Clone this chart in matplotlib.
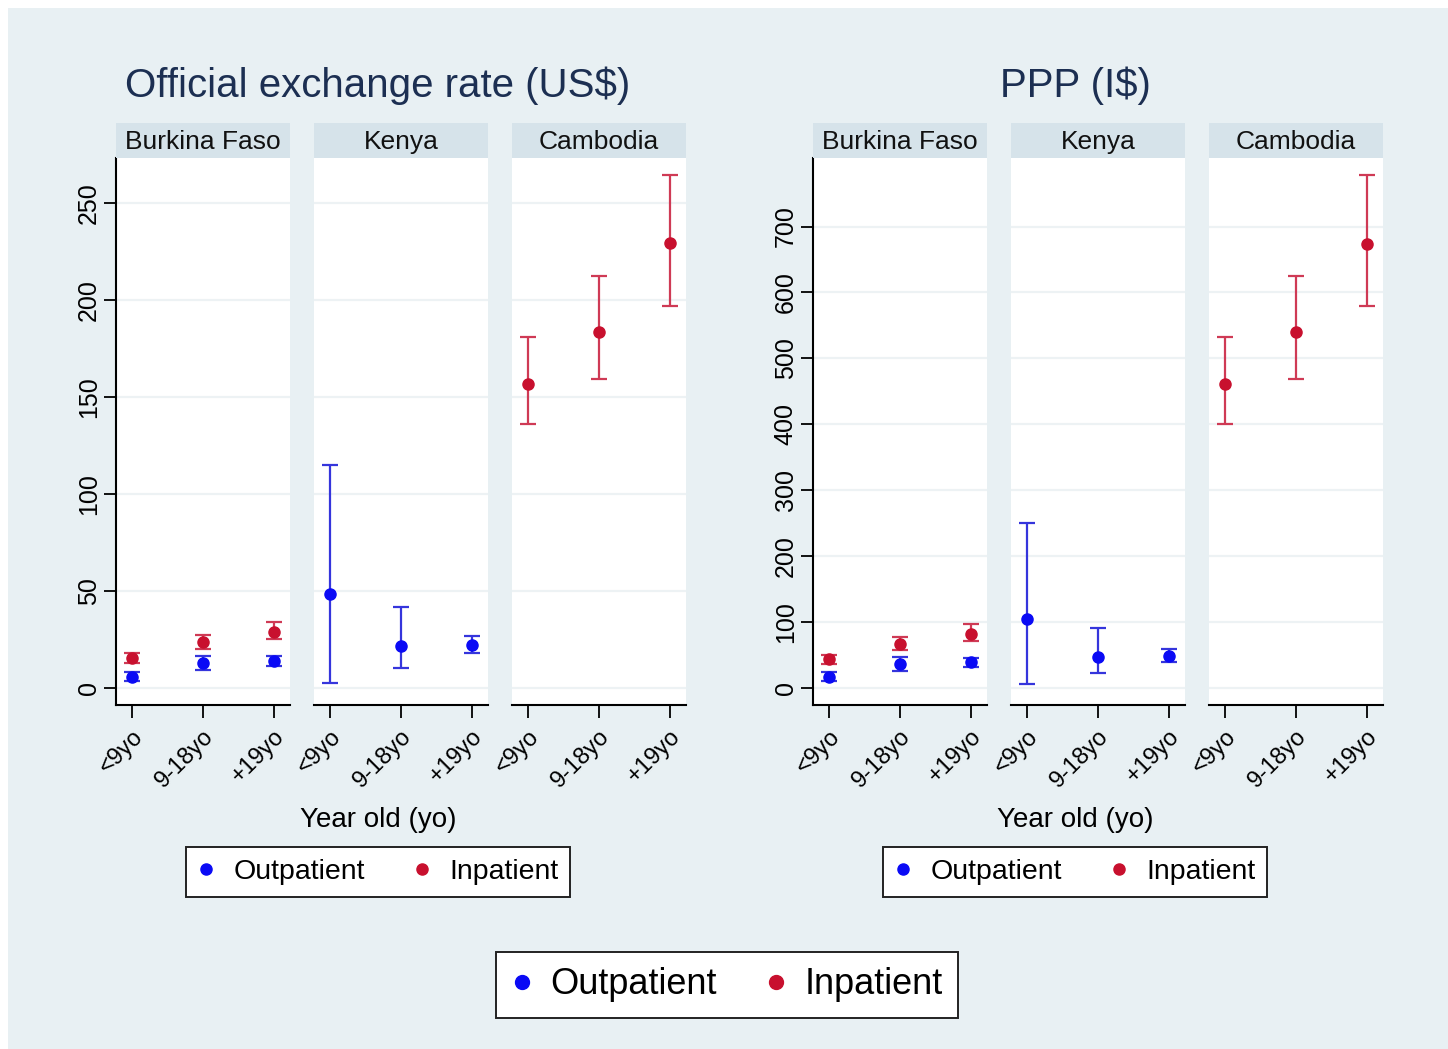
import matplotlib
matplotlib.use("Agg")
import matplotlib.pyplot as plt
from matplotlib.lines import Line2D
from matplotlib.patches import Rectangle
import numpy as np

plt.rcParams['font.family'] = ['Liberation Sans', 'DejaVu Sans']

# ---------------- data ----------------
age_groups = ['<9yo', '9-18yo', '+19yo']
countries = ['Burkina Faso', 'Kenya', 'Cambodia']

# Official exchange rate (US$)
usd_bf_out = [5.8, 12.7, 13.9]
usd_bf_out_lo = [3.6, 9.3, 11.5]
usd_bf_out_hi = [8.2, 16.6, 16.2]
usd_bf_in = [15.3, 23.4, 29.0]
usd_bf_in_lo = [12.7, 20.1, 25.1]
usd_bf_in_hi = [17.9, 27.2, 34.2]
usd_ke_out = [48.3, 21.6, 22.0]
usd_ke_out_lo = [2.7, 10.3, 17.9]
usd_ke_out_hi = [115.0, 41.8, 26.8]
usd_kh_in = [156.5, 183.5, 229.2]
usd_kh_in_lo = [136.1, 159.0, 197.0]
usd_kh_in_hi = [180.6, 212.0, 264.4]

# PPP (I$)
ppp_bf_out = [17.2, 36.4, 39.5]
ppp_bf_out_lo = [10.7, 26.4, 32.4]
ppp_bf_out_hi = [23.8, 47.7, 45.6]
ppp_bf_in = [44.0, 66.7, 82.6]
ppp_bf_in_lo = [36.4, 57.5, 70.6]
ppp_bf_in_hi = [50.5, 77.4, 97.1]
ppp_ke_out = [104.7, 47.7, 48.8]
ppp_ke_out_lo = [6.1, 22.9, 39.0]
ppp_ke_out_hi = [250.0, 90.9, 58.8]
ppp_kh_in = [461.0, 540.6, 674.0]
ppp_kh_in_lo = [401.0, 468.0, 580.0]
ppp_kh_in_hi = [532.0, 624.7, 778.5]

usd_ticks = [0, 50, 100, 150, 200, 250]
ppp_ticks = [0, 100, 200, 300, 400, 500, 600, 700]

# ---------------- style ----------------
W, H = 1448, 1049
BG = '#e8f0f3'
STRIP = '#d6e3ea'
GRID = '#edf2f4'
BLUE = '#0a0af5'
BLUE_E = '#3535dc'
RED = '#c8102e'
RED_E = '#cf3a55'

fig = plt.figure(figsize=(W / 100, H / 100), dpi=100, facecolor='white')
fig.patches.append(Rectangle((8 / W, 0), 1, 1 - 8 / H, transform=fig.transFigure,
                             facecolor=BG, edgecolor='none', zorder=-10))


def rect(x0, y0, x1, y1):
    return [x0 / W, 1 - y1 / H, (x1 - x0) / W, (y1 - y0) / H]


def draw_series(ax, mean, lo, hi, color, ecolor):
    x = np.arange(len(mean))
    mean = np.asarray(mean)
    yerr = [mean - np.asarray(lo), np.asarray(hi) - mean]
    ax.errorbar(x, mean, yerr=yerr, fmt='none', ecolor=ecolor, elinewidth=1.6,
                capsize=6, capthick=1.6, zorder=3)
    ax.plot(x, mean, 'o', color=color, markersize=8, zorder=4, linestyle='none')


def make_legend(x, y, fontsize, msize, pad, colsp):
    handles = [Line2D([], [], marker='o', linestyle='none', color=BLUE, markersize=msize),
               Line2D([], [], marker='o', linestyle='none', color=RED, markersize=msize)]
    leg = fig.legend(handles, ['Outpatient', 'Inpatient'], loc='center',
                     bbox_to_anchor=(x / W, 1 - y / H), ncol=2, fontsize=fontsize,
                     frameon=True, fancybox=False, edgecolor='#222222', framealpha=1,
                     handletextpad=pad, columnspacing=colsp, borderpad=0.42,
                     handlelength=0.6, borderaxespad=0)
    leg.get_frame().set_linewidth(1.4)


def make_chart(xoffs, ylim, yticks, title, title_x, panels):
    for i, (x0, country, series) in enumerate(zip(xoffs, countries, panels)):
        ax = fig.add_axes(rect(x0, 158, x0 + 174, 705))
        ax.set_facecolor('white')
        ax.set_xlim(-0.22, 2.23)
        ax.set_ylim(*ylim)
        ax.set_yticks(yticks)
        ax.grid(axis='y', color=GRID, linewidth=1.6, zorder=0)
        ax.set_axisbelow(True)
        for s in ['top', 'right']:
            ax.spines[s].set_visible(False)
        ax.spines['bottom'].set_linewidth(1.5)
        ax.spines['left'].set_linewidth(1.5)
        ax.set_xticks(range(3))
        ax.set_xticklabels(age_groups, rotation=45, ha='right', va='top',
                           rotation_mode='anchor', fontsize=17)
        ax.tick_params(axis='x', length=9, width=1.3, pad=6)
        if i == 0:
            ax.set_yticklabels([str(t) for t in yticks], rotation=90, va='center',
                               fontsize=18)
            ax.tick_params(axis='y', length=9, width=1.3, pad=2)
        else:
            ax.spines['left'].set_visible(False)
            ax.tick_params(axis='y', left=False, labelleft=False)
        for mean, lo, hi, c, ec in series:
            draw_series(ax, mean, lo, hi, c, ec)
        # strip
        sax = fig.add_axes(rect(x0, 123, x0 + 174, 158))
        sax.set_facecolor(STRIP)
        sax.set_xticks([]); sax.set_yticks([])
        for s in sax.spines.values():
            s.set_visible(False)
        sax.text(0.5, 0.47, country, ha='center', va='center', fontsize=19,
                 transform=sax.transAxes, color='#111111')
    fig.text(title_x / W, 1 - 86 / H, title, ha='center', va='center', fontsize=29,
             color='#1c2f52')
    fig.text(title_x / W, 1 - 820 / H, 'Year old (yo)', ha='center', va='center',
             fontsize=20)
    make_legend(title_x, 872, 20.5, 8, 0.65, 1.7)


make_chart([116, 314, 512], (-8.8, 273), usd_ticks, 'Official exchange rate (US$)', 378,
           [[(usd_bf_out, usd_bf_out_lo, usd_bf_out_hi, BLUE, BLUE_E),
             (usd_bf_in, usd_bf_in_lo, usd_bf_in_hi, RED, RED_E)],
            [(usd_ke_out, usd_ke_out_lo, usd_ke_out_hi, BLUE, BLUE_E)],
            [(usd_kh_in, usd_kh_in_lo, usd_kh_in_hi, RED, RED_E)]])

make_chart([813, 1011, 1209], (-25.8, 804), ppp_ticks, 'PPP (I$)', 1075,
           [[(ppp_bf_out, ppp_bf_out_lo, ppp_bf_out_hi, BLUE, BLUE_E),
             (ppp_bf_in, ppp_bf_in_lo, ppp_bf_in_hi, RED, RED_E)],
            [(ppp_ke_out, ppp_ke_out_lo, ppp_ke_out_hi, BLUE, BLUE_E)],
            [(ppp_kh_in, ppp_kh_in_lo, ppp_kh_in_hi, RED, RED_E)]])

make_legend(727, 985, 26, 10, 0.47, 1.35)

fig.savefig('out.png', dpi=100, facecolor=fig.get_facecolor())
